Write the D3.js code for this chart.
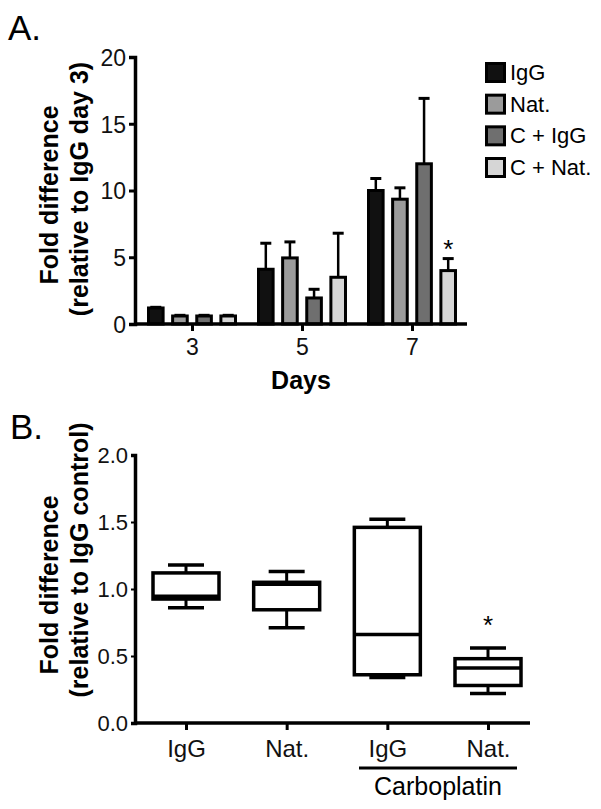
<!DOCTYPE html>
<html>
<head>
<meta charset="utf-8">
<script src="https://cdn.jsdelivr.net/npm/d3@7"></script>
<style>
  body { margin: 0; background: #fff; }
  svg { display: block; font-family: "Liberation Sans", Arial, sans-serif; }
</style>
</head>
<body>
<div id="chart"></div>
<script>
// panel A data
const days = ["3", "5", "7"];
const seriesNames = ["IgG", "Nat.", "C + IgG", "C + Nat."];
const seriesColors = ["#111111", "#9b9b9b", "#6f6f6f", "#d6d6d6"];
const meanIgG = [1.2, 4.1, 10.0];
const meanNat = [0.6, 4.95, 9.35];
const meanCIgG = [0.6, 1.95, 12.0];
const meanCNat = [0.6, 3.5, 4.0];
const semIgG = [0.05, 1.95, 0.9];
const semNat = [0.05, 1.2, 0.85];
const semCIgG = [0.05, 0.65, 4.9];
const semCNat = [0.05, 3.3, 0.9];
const ticksA = [0, 5, 10, 15, 20];

// panel B data
const groupsB = ["IgG", "Nat.", "IgG", "Nat."];
const whiskLo = [0.86, 0.71, 0.34, 0.22];
const q1 = [0.925, 0.845, 0.36, 0.28];
const median = [0.945, 1.035, 0.66, 0.41];
const q3 = [1.12, 1.05, 1.46, 0.48];
const whiskHi = [1.18, 1.13, 1.52, 0.56];
const ticksB = [0, 0.5, 1.0, 1.5, 2.0];

const W = 601, H = 809;
const svg = d3.select("#chart").append("svg")
    .attr("width", W)
    .attr("height", H);

// ---------- Panel A ----------
const means = [meanIgG, meanNat, meanCIgG, meanCNat];
const sems = [semIgG, semNat, semCIgG, semCNat];
const barData = [];
seriesNames.forEach((s, i) => {
    days.forEach((d, j) => {
        barData.push({ series: s, day: d, mean: means[i][j], sem: sems[i][j], color: seriesColors[i] });
    });
});

const yA = d3.scaleLinear().domain([0, 20]).range([324, 57]);
const xA = d3.scalePoint().domain(days).range([192, 412]);
const xInner = d3.scaleBand().domain(seriesNames).range([-45, 45]).paddingInner(0.27);

svg.append("text").attr("x", 8).attr("y", 40)
    .attr("font-size", 35).text("A.");

const gA = svg.append("g");

// error bars (drawn first, bars cover the lower part)
gA.selectAll(".errA")
    .data(barData)
    .join("g")
    .attr("class", "errA")
    .each(function(d) {
        const cx = xA(d.day) + xInner(d.series) + xInner.bandwidth() / 2;
        const g = d3.select(this);
        g.append("line")
            .attr("x1", cx).attr("x2", cx)
            .attr("y1", yA(d.mean)).attr("y2", yA(d.mean + d.sem))
            .attr("stroke", "#000").attr("stroke-width", 2.5);
        g.append("line")
            .attr("x1", cx - 5.5).attr("x2", cx + 5.5)
            .attr("y1", yA(d.mean + d.sem)).attr("y2", yA(d.mean + d.sem))
            .attr("stroke", "#000").attr("stroke-width", 3);
    });

gA.selectAll(".barA")
    .data(barData)
    .join("rect")
    .attr("class", "barA")
    .attr("x", d => xA(d.day) + xInner(d.series) + 1.5)
    .attr("y", d => yA(d.mean))
    .attr("width", xInner.bandwidth() - 3)
    .attr("height", d => yA(0) - yA(d.mean))
    .attr("fill", d => d.color)
    .attr("stroke", "#000")
    .attr("stroke-width", 3);

// axes A
const yAxisA = d3.axisLeft(yA).tickValues(ticksA).tickSize(6).tickPadding(3);
const axA = svg.append("g").attr("transform", "translate(135,0)").call(yAxisA);
const xAxisA = d3.axisBottom(xA).tickSize(7).tickPadding(8);
const axXA = svg.append("g").attr("transform", "translate(0,324)").call(xAxisA);
axXA.select(".domain").attr("d", "M135,0H467");
[axA, axXA].forEach(a => {
    a.select(".domain").attr("stroke-width", 3.5);
    a.selectAll(".tick line").attr("stroke-width", 3);
    a.selectAll(".tick text").attr("font-size", 23).attr("fill", "#111");
});
axA.selectAll(".tick text").attr("dy", "0.36em");

// asterisk day 7, C + Nat.
svg.append("text")
    .attr("x", xA("7") + xInner("C + Nat.") + xInner.bandwidth() / 2)
    .attr("y", yA(meanCNat[2] + semCNat[2]) - 1)
    .attr("text-anchor", "middle").attr("font-size", 26).text("*");

svg.append("text").attr("x", 301).attr("y", 389)
    .attr("text-anchor", "middle").attr("font-size", 25).attr("font-weight", "bold")
    .text("Days");

svg.append("text").attr("transform", "translate(58,195) rotate(-90)")
    .attr("text-anchor", "middle").attr("font-size", 25).attr("font-weight", "bold")
    .text("Fold difference");
svg.append("text").attr("transform", "translate(88,189) rotate(-90)")
    .attr("text-anchor", "middle").attr("font-size", 25).attr("font-weight", "bold")
    .text("(relative to IgG day 3)");

// legend
const legY = d3.scalePoint().domain(seriesNames).range([62, 157]);
const leg = svg.append("g").selectAll("g")
    .data(seriesNames)
    .join("g")
    .attr("transform", d => `translate(485,${legY(d)})`);
leg.append("rect")
    .attr("x", 1.5).attr("y", 1.5).attr("width", 18).attr("height", 18)
    .attr("fill", (d, i) => seriesColors[i])
    .attr("stroke", "#000").attr("stroke-width", 3);
leg.append("text")
    .attr("x", 25).attr("y", 18)
    .attr("font-size", 22).text(d => d);

// ---------- Panel B ----------
const boxData = groupsB.map((g, i) => ({
    i, label: g, lo: whiskLo[i], q1: q1[i], med: median[i], q3: q3[i], hi: whiskHi[i]
}));

const yB = d3.scaleLinear().domain([0, 2]).range([723, 455]);
const xB = d3.scalePoint().domain(d3.range(groupsB.length)).range([186, 488]);
const boxW = 66, capW = 36;

svg.append("text").attr("x", 10).attr("y", 439)
    .attr("font-size", 35).text("B.");

const boxes = svg.append("g").selectAll("g")
    .data(boxData)
    .join("g");
boxes.each(function(d) {
    const g = d3.select(this);
    const cx = xB(d.i);
    const line = (x1, y1, x2, y2, w) => g.append("line")
        .attr("x1", x1).attr("y1", y1).attr("x2", x2).attr("y2", y2)
        .attr("stroke", "#000").attr("stroke-width", w);
    line(cx, yB(d.hi), cx, yB(d.q3), 3);
    line(cx, yB(d.q1), cx, yB(d.lo), 3);
    line(cx - capW / 2, yB(d.hi), cx + capW / 2, yB(d.hi), 3.5);
    line(cx - capW / 2, yB(d.lo), cx + capW / 2, yB(d.lo), 3.5);
    g.append("rect")
        .attr("x", cx - boxW / 2).attr("y", yB(d.q3))
        .attr("width", boxW).attr("height", yB(d.q1) - yB(d.q3))
        .attr("fill", "#fff").attr("stroke", "#000").attr("stroke-width", 3.5);
    line(cx - boxW / 2, yB(d.med), cx + boxW / 2, yB(d.med), 3.5);
});

const yAxisB = d3.axisLeft(yB).tickValues(ticksB).tickFormat(d3.format(".1f")).tickSize(4).tickPadding(3);
const axB = svg.append("g").attr("transform", "translate(135,0)").call(yAxisB);
const xAxisB = d3.axisBottom(xB).tickFormat(i => groupsB[i]).tickSize(7).tickPadding(10);
const axXB = svg.append("g").attr("transform", "translate(0,723)").call(xAxisB);
axXB.select(".domain").attr("d", "M135,0H530");
[axB, axXB].forEach(a => {
    a.select(".domain").attr("stroke-width", 3.5);
    a.selectAll(".tick line").attr("stroke-width", 3);
    a.selectAll(".tick text").attr("font-size", 24).attr("fill", "#111");
});
axB.selectAll(".tick line").attr("stroke-width", 2);
axB.selectAll(".tick text").attr("font-size", 22).attr("dy", "0.36em");

svg.append("text")
    .attr("x", xB(3)).attr("y", yB(whiskHi[3]) - 14)
    .attr("text-anchor", "middle").attr("font-size", 26).text("*");

svg.append("line").attr("x1", 359).attr("x2", 517).attr("y1", 768).attr("y2", 768)
    .attr("stroke", "#000").attr("stroke-width", 3);
svg.append("text").attr("x", 438).attr("y", 795)
    .attr("text-anchor", "middle").attr("font-size", 25).text("Carboplatin");

svg.append("text").attr("transform", "translate(58,585) rotate(-90)")
    .attr("text-anchor", "middle").attr("font-size", 25).attr("font-weight", "bold")
    .text("Fold difference");
svg.append("text").attr("transform", "translate(88,560) rotate(-90)")
    .attr("text-anchor", "middle").attr("font-size", 25).attr("font-weight", "bold")
    .text("(relative to IgG control)");
</script>
</body>
</html>
